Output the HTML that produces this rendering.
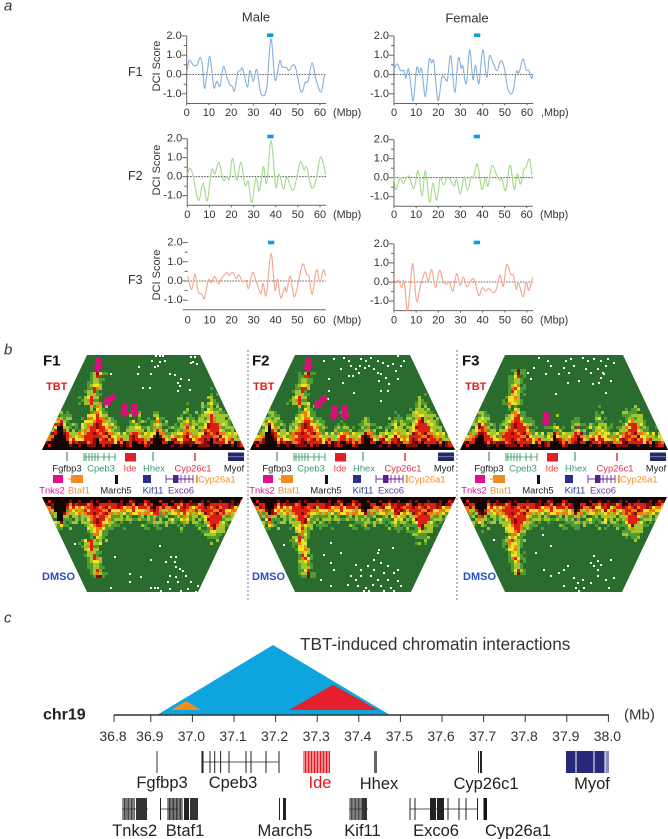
<!DOCTYPE html>
<html lang="en">
<head>
<meta charset="utf-8">
<title>TBT-induced chromatin interactions</title>
<style>
html,body{margin:0;padding:0;background:#fff;width:668px;height:839px;overflow:hidden}
svg{display:block}
text{font-family:"Liberation Sans",sans-serif}
</style>
</head>
<body>
<svg id="fig" xmlns="http://www.w3.org/2000/svg" width="668" height="839" viewBox="0 0 668 839"></svg>
<script>
/* ---------- Panel a: DCI score series ---------- */
const mbpTicks = [0,10,20,30,40,50,60];
const scoreTicks = [2,1,0,-1];
const scoreMinor = [1.5,0.5,-0.5,-1.5];
const f1MaleMbp = [0,1,2,3,4,5,6,7,8,9.3,10.3,11.3,12.3,13.6,15,16.5,18,19.5,20.5,21.5,23,24.3,25.2,27.3,28.4,30,31.5,33.5,36,37.9,39.8,41.8,43,45,46,47.7,49,51.5,53.4,54.6,56.4,58.3,60.5,62];
const f1MaleScore = [0.05,0.7,0.65,0.48,0.45,0.55,0.88,0.5,-0.72,0.2,0.95,0.2,-0.7,-0.35,-0.6,0.4,-0.1,-0.55,-0.6,-0.85,0.1,0.2,0.3,-0.65,0.2,-0.35,0.25,-1.0,-0.7,1.85,-0.3,0.7,0.4,0.35,0.2,0.48,0.35,-0.9,-0.4,-0.35,0.6,-0.3,-0.9,0];
const f1FemaleMbp = [0,1.5,3,4.5,5.4,6.5,7.5,8.7,10.2,11.4,12.5,14.2,15.8,17,18,19.8,21.6,23,24.1,25.6,27.4,29,30.3,31,32.6,34.1,35.6,36.8,38.3,40,41.8,43.1,44.7,46.5,48.1,49.6,51.4,53.5,55.2,56.3,58.2,59.6,60.8,62,62.7];
const f1FemaleScore = [0.28,0.55,0.2,0.2,-0.2,0.3,-0.45,-1.35,0.33,0.07,0.28,-1.15,0.72,0.6,0.65,-1.35,-0.15,-0.2,-0.28,0.97,-0.93,0.85,0.33,0.45,-0.48,1.28,-0.25,0.47,-0.48,1.28,-0.15,0.97,0.6,0.2,0.7,0.42,-0.76,-0.93,0.15,0.07,0.8,0.25,0.2,-0.2,0];
const f2MaleMbp = [0,1.2,2.7,4.2,5.4,7.2,9,11,12.5,14.3,16.3,17.8,19,20.5,22.3,24.3,26.1,27.6,29.1,31,32.6,34.4,35.9,37.9,40,41.5,43.5,45,48,51,52.8,54,56.2,58.2,60.3,62.6];
const f2MaleScore = [0.1,0.45,0,-0.95,-1.22,-0.35,-1.27,0.35,0.15,0.75,-0.18,0.03,-0.14,0.97,-0.18,0.75,-0.45,-0.26,-1.37,-0.09,-0.74,0.53,-0.35,1.9,-0.53,0.14,-0.65,-0.03,-0.7,0.75,0.35,0.49,-0.58,-0.18,1.05,0.09];
const f2FemaleMbp = [0,0.9,2.7,4.2,6.5,9,10.9,12.7,14.2,16.1,17.6,19.3,20.9,22.4,24.4,27.1,28.3,30,31.7,33.3,34.8,35.9,37.7,39.7,41.3,42.5,44.3,46.4,47.9,49,50.5,52.5,54.3,55.8,57.3,58.8,59.7,61.2,62.4];
const f2FemaleScore = [0.05,-0.65,0,-0.3,0.1,-0.56,0.37,-0.96,0.37,-1.3,-0.3,-1.18,0,-0.39,0.05,-0.44,-0.09,-0.86,0.05,-0.68,0.05,0,0.72,-0.61,-0.04,-0.44,0.63,0.14,-0.12,-0.09,-0.68,0.67,-0.61,0.19,-0.33,0.44,0.54,0.98,0.14];
const f3MaleMbp = [0,1.8,3.3,4.8,6.4,7.6,9.4,10.6,12.3,14,15.5,17.8,18.8,20.5,22,23.4,24.9,26.5,27.7,29.5,31,33.3,34.3,35.8,37.9,39.7,40.9,42.4,44.2,45,46.7,48.4,50.3,52.3,54.1,55.2,56.7,58.6,60.2,61.7,62.8];
const f3MaleScore = [0.26,-0.44,0.37,-0.56,-0.68,-0.91,0.05,-0.09,0.23,-0.16,0.14,0.44,0.28,0.46,0.14,0.32,-0.04,0.02,-0.39,0.44,0.05,-0.65,-0.12,-0.74,1.42,-0.47,0.1,-0.88,-0.33,-0.56,0.26,-0.82,-0.12,0.88,0.37,0.23,-0.68,0.58,-0.04,0.58,0.28];
const f3FemaleMbp = [0,0.9,2,3.5,4.3,5,6.2,8,8.7,10.2,11.8,14,15.5,17,18.7,20.5,22.3,23.8,25,26.6,28.3,29.8,31.3,33,35.9,38.2,39.8,41.3,42.8,44.8,46.3,47.8,49.3,50.8,52.6,53.8,55.2,56.1,58.2,59.6,60.8,62.6];
const f3FemaleScore = [0.18,-0.05,0.09,-0.3,0.09,-0.35,-1.5,0.7,0.75,-1,-0.26,0.53,0.05,0.65,-0.3,0.61,0,-0.12,0,-0.47,0.44,-0.18,0.26,-0.26,0.18,-0.7,-0.3,-0.47,-0.35,-0.56,-0.35,0.35,-0.23,0.91,0.4,0.35,-0.39,0,-0.79,0,-0.44,0.23];

/* ---------- Panel b: contact-map domain peaks (dx = px from left corner, value = band height) ---------- */
const f1TbtCenters = [18,56,93,116,145,170];
const f1TbtBlack = [25,12,13,17,8,10];
const f1TbtRed = [32,38,22,23,22,35];
const f1TbtYellow = [35,48,27,27,30,42];
const f1TbtGreen = [43,52,37,38,42,57];
const f2TbtCenters = [20,57,93,117,147,172];
const f2TbtBlack = [23,10,10,15,7,12];
const f2TbtRed = [28,35,18,23,18,35];
const f2TbtYellow = [33,43,25,25,25,42];
const f2TbtGreen = [45,50,33,35,38,53];
const f3TbtCenters = [21,57,95,118,140,173];
const f3TbtBlack = [18,7,15,10,6,8];
const f3TbtRed = [28,38,18,22,17,30];
const f3TbtYellow = [33,43,23,25,25,37];
const f3TbtGreen = [43,48,30,33,38,45];
const f1DmsoCenters = [18,57,92,113,142,172];
const f1DmsoBlack = [23,6,6,14,7,8];
const f1DmsoRed = [28,36,14,19,20,36];
const f1DmsoYellow = [30,43,20,24,26,40];
const f1DmsoGreen = [34,50,28,30,32,46];
const f2DmsoCenters = [20,53,92,115,147,172];
const f2DmsoBlack = [18,6,6,15,6,10];
const f2DmsoRed = [25,33,13,20,22,35];
const f2DmsoYellow = [28,38,20,23,28,38];
const f2DmsoGreen = [33,46,27,30,36,48];
const f3DmsoCenters = [22,57,92,117,147,173];
const f3DmsoBlack = [20,6,6,15,6,10];
const f3DmsoRed = [23,38,14,18,18,32];
const f3DmsoYellow = [27,45,20,24,25,38];
const f3DmsoGreen = [32,50,28,30,32,45];
/* stripe: [dxStart, heightStart, dxEnd, heightEnd, strength] */
const f1TbtStripe = [48,47,57,77,0.8];
const f2TbtStripe = [48,47,58,77,1];
const f3TbtStripe = [52,47,59,78,0.35];
const f1DmsoStripe = [48,46,57,79,0.4];
const f2DmsoStripe = [50,42,58,78,0.3];
const f3DmsoStripe = [52,42,59,77,0.45];
const cellGrain = [-2,4,1,-5,3,-1,0,5,-3,2,-4,1,3,-2,-5,4,0,-1,2,-3,5,-4,1,-2,3,0,-5,2,4,-1,-3,1,5,-4,0,2,-2];
/* empty (white) contact cells: [dx, height] */
const f1TbtEmpty = [[113,95],[117,95],[120,95],[109,90],[117,89],[122,90],[115,85],[112,84],[96,84],[68,77],[95,77],[108,77],[127,77],[132,76],[138,72],[146,71],[135,68],[137,65],[135,60],[147,61],[107,63],[100,63],[148,94],[152,94],[148,88],[154,87],[150,89]];
const f1DmsoEmpty = [[32,46],[117,48],[72,59],[108,62],[123,64],[128,59],[133,59],[132,64],[133,69],[137,71],[140,73],[87,76],[98,79],[127,78],[133,79],[143,78],[125,84],[135,84],[148,84],[155,88],[87,84],[68,90],[108,90],[112,90],[115,90],[118,93],[127,91],[138,93],[145,91],[153,94],[88,95]];
const f2TbtEmpty = [[73,90],[83,92],[93,93],[98,90],[110,92],[115,90],[120,93],[132,88],[147,95],[100,85],[105,82],[108,78],[98,75],[102,75],[123,82],[127,78],[130,77],[137,85],[142,87],[145,80],[150,85],[135,73],[138,67],[130,60],[130,50],[147,72],[78,72],[103,58],[78,60],[77,52],[118,85],[114,83],[109,85],[127,90],[137,60],[128,70],[153,90],[90,82],[92,68]];
const f2DmsoEmpty = [[33,47],[80,45],[73,57],[90,55],[127,55],[142,50],[83,72],[80,65],[105,67],[110,72],[117,68],[123,72],[130,65],[137,68],[133,75],[143,75],[147,72],[100,78],[105,82],[110,78],[120,78],[127,82],[137,82],[147,83],[97,87],[107,88],[115,90],[122,87],[130,88],[140,90],[150,88],[113,93],[118,93],[133,93],[143,93],[128,52],[123,62],[70,82],[80,88]];
const f3TbtEmpty = [[78,93],[87,90],[90,85],[105,90],[110,92],[122,93],[127,90],[133,92],[140,90],[147,92],[153,88],[103,83],[108,78],[113,85],[125,82],[130,78],[137,82],[142,78],[145,85],[140,73],[143,77],[138,68],[145,58],[132,67],[107,68],[70,72],[85,77],[95,57],[73,83],[118,70],[67,78],[98,77],[150,70]];
const f3DmsoEmpty = [[33,42],[82,37],[75,55],[90,48],[133,58],[137,63],[130,65],[140,67],[133,68],[103,72],[107,68],[98,75],[137,72],[150,62],[113,80],[117,85],[115,90],[122,82],[137,78],[145,82],[153,80],[130,85],[103,88],[148,90],[83,72],[90,78],[118,93],[123,90]];

/* ---------- Panel c: genome axis ---------- */
const mbTickLabels = ["36.8","36.9","37.0","37.1","37.2","37.3","37.4","37.5","37.6","37.7","37.8","37.9","38.0"];

const NS = 'http://www.w3.org/2000/svg';
const fig = document.getElementById('fig');
function mk(tag, attrs, parent, name, interact) {
  const el = document.createElementNS(NS, tag);
  for (const k in attrs) el.setAttribute(k, attrs[k]);
  
  
  (parent || fig).appendChild(el);
  return el;
}
function txt(s, x, y, size, opts, parent, name) {
  const o = opts || {};
  const el = mk('text', {x:x, y:y, 'font-size':size, fill:o.fill||'#333', 'text-anchor':o.anchor||'start', 'dominant-baseline':'central', 'font-weight':o.weight||'normal', 'font-style':o.style||'normal'}, parent, name);
  if (o.rotate) el.setAttribute('transform', 'rotate(' + o.rotate + ' ' + x + ' ' + y + ')');
  el.textContent = s;
  return el;
}
/* section letters and titles */
txt('a', 4, 6, 15, {style:'italic'}, fig, 'panel-a-label');
txt('b', 4, 350, 15, {style:'italic'}, fig, 'panel-b-label');
txt('c', 4, 618, 15, {style:'italic'}, fig, 'panel-c-label');
txt('Male', 256, 17, 13, {anchor:'middle'}, fig, 'male-column-title');
txt('Female', 467, 18, 13, {anchor:'middle'}, fig, 'female-column-title');

/* line charts */
function smooth(pts) {
  let d = 'M' + pts[0][0].toFixed(1) + ' ' + pts[0][1].toFixed(1);
  for (let i = 0; i < pts.length - 1; i++) {
    const p0 = pts[Math.max(i-1,0)], p1 = pts[i], p2 = pts[i+1], p3 = pts[Math.min(i+2,pts.length-1)];
    const c1x = p1[0] + (p2[0]-p0[0])/6, c1y = p1[1] + (p2[1]-p0[1])/6;
    const c2x = p2[0] - (p3[0]-p1[0])/6, c2y = p2[1] - (p3[1]-p1[1])/6;
    d += 'C' + c1x.toFixed(1) + ' ' + c1y.toFixed(1) + ' ' + c2x.toFixed(1) + ' ' + c2y.toFixed(1) + ' ' + p2[0].toFixed(1) + ' ' + p2[1].toFixed(1);
  }
  return d;
}
function lineChart(c) {
  const g = mk('g', {}, fig, c.name + '-chart');
  const sx = v => c.x0 + v * (c.x60 - c.x0) / 60;
  const sy = v => c.y0 - v * c.unit;
  const bottom = sy(-1.5) + (c.bottomExtra || 0);
  if (c.spine !== false) mk('line', {x1:c.x0, x2:c.x0, y1:sy(2), y2:bottom, stroke:'#666', 'stroke-width':1}, g, 'y-axis');
  mk('line', {x1:c.x0 - (c.spine === false ? 5 : 0), x2:sx(62.8), y1:bottom, y2:bottom, stroke:'#666', 'stroke-width':1}, g, 'x-axis');
  scoreTicks.forEach(v => {
    mk('line', {x1:c.x0-5, x2:c.x0, y1:sy(v), y2:sy(v), stroke:'#666', 'stroke-width':1}, g, 'y-tick');
    txt(v.toFixed(1), c.x0-5, sy(v), 11, {anchor:'end'}, g, 'y-tick-label');
  });
  scoreMinor.forEach(v => {
    if (sy(v) < bottom) mk('line', {x1:c.x0-3, x2:c.x0, y1:sy(v), y2:sy(v), stroke:'#666', 'stroke-width':1}, g, 'y-minor-tick');
  });
  mbpTicks.forEach(v => {
    if (c.spine !== false) mk('line', {x1:sx(v), x2:sx(v), y1:bottom, y2:bottom+2, stroke:'#666', 'stroke-width':1}, g, 'x-tick');
    txt(String(v), sx(v), c.labelY, 11, {anchor:'middle'}, g, 'x-tick-label');
  });
  txt(c.unitLabel, c.unitX, c.labelY, 10.8, {}, g, 'x-axis-unit');
  mk('line', {x1:c.x0, x2:sx(62.8), y1:sy(0), y2:sy(0), stroke:'#333', 'stroke-width':0.8, 'stroke-dasharray':'1.6 1.2'}, g, 'zero-line');
  const pts = c.mbp.map((m,i) => [sx(m), sy(c.score[i])]);
  mk('path', {d:smooth(pts), fill:'none', stroke:c.color, 'stroke-width':1.1}, g, c.name + '-line');
  mk('rect', {x:c.barX, y:c.barY, width:6.3, height:3.6, fill:'#0a9edc'}, g, 'locus-marker');
}
const BLUE = '#86b0da', GREEN = '#a2d98a', ORANGE = '#f4a48a';
lineChart({name:'f1-male', mbp:f1MaleMbp, score:f1MaleScore, color:BLUE, x0:186.7, x60:320, y0:74.5, unit:19.3, labelY:113, unitLabel:'(Mbp)', unitX:333, barX:267, barY:33.4});
lineChart({name:'f1-female', mbp:f1FemaleMbp, score:f1FemaleScore, color:BLUE, x0:394, x60:527, y0:74.5, unit:19.3, labelY:113, unitLabel:',Mbp)', unitX:541, barX:474, barY:33.4});
lineChart({name:'f2-male', mbp:f2MaleMbp, score:f2MaleScore, color:GREEN, x0:187.3, x60:320, y0:176.7, unit:19, labelY:215, unitLabel:'(Mbp)', unitX:333, barX:267.3, barY:134.7});
lineChart({name:'f2-female', mbp:f2FemaleMbp, score:f2FemaleScore, color:GREEN, x0:394, x60:526.7, y0:177.7, unit:19, labelY:215, unitLabel:'(Mbp)', unitX:540, barX:473.7, barY:134.7});
lineChart({name:'f3-male', mbp:f3MaleMbp, score:f3MaleScore, color:ORANGE, x0:187.7, x60:319.5, y0:281, unit:19.2, labelY:320.5, unitLabel:'(Mbp)', unitX:333, barX:268, barY:240.7, spine:false, bottomExtra:0});
lineChart({name:'f3-female', mbp:f3FemaleMbp, score:f3FemaleScore, color:ORANGE, x0:394, x60:527, y0:282, unit:19.1, labelY:320.5, unitLabel:'(Mbp)', unitX:540, barX:473.7, barY:240.7});
[['F1',72,66],['F2',176,170],['F3',280,275]].forEach(r => {
  txt(r[0], 128, r[1], 12.5, {}, fig, r[0].toLowerCase() + '-row-label');
  txt('DCI Score', 157, r[2], 11, {anchor:'middle', rotate:-90}, fig, 'y-axis-title');
});

/* contact maps */
const COLORS = {black:'#140505', dark:'#8a0c0a', red:'#dc1e14', orange:'#f07a12', yellow:'#f2e022', lime:'#a2c42c', green:'#4e9a34'};
const BG = '#2a6c2e';
function band(centers, heights, floor, dx, slope) {
  let v = floor;
  for (let i = 0; i < centers.length; i++) v = Math.max(v, heights[i] - slope * Math.abs(dx - centers[i]));
  return v;
}
let clipN = 0;
function contactMap(p) {
  const g = mk('g', {}, fig, p.name + '-contact-map');
  const dir = p.up ? -1 : 1;
  const far = p.base + dir * 95;
  const poly = [[p.left,p.base],[p.left+45,far],[p.left+p.w-45,far],[p.left+p.w,p.base]].map(a => a.join(',')).join(' ');
  const id = 'clip' + (clipN++);
  const defs = mk('clipPath', {id:id}, g, 'map-clip');
  mk('polygon', {points:poly}, defs, 'map-clip-shape');
  mk('polygon', {points:poly, fill:BG}, g, 'map-background');
  const paths = {};
  Object.keys(COLORS).forEach(k => paths[k] = '');
  const cell = 3;
  const cols = Math.ceil(p.w / cell), rows = 32;
  const N = cellGrain.length;
  for (let c = 0; c < cols; c++) {
    const dx = c * cell + cell / 2;
    const bk = band(p.centers, p.black, p.floors[0], dx, 2.2);
    const rd = band(p.centers, p.red, p.floors[1], dx, 1.95);
    const yl = band(p.centers, p.yellow, p.floors[2], dx, 1.8);
    const gr = band(p.centers, p.green, p.floors[3], dx, 1.5) + 3;
    for (let r = 0; r < rows; r++) {
      const h = r * cell + cell / 2;
      const g1 = cellGrain[(c * 31 + r * 17 + c * r) % N];
      const g2 = cellGrain[(c * 13 + r * 29 + c * c + r * r) % N];
      let col = null;
      const vIn = h + (r < 1 ? -9 : g1 * 0.6);
      const vOut = h + g1 * 1.1;
      if (vIn < bk) col = 'black';
      else if (vIn < rd) {
        if (vIn < bk + 2.5) col = g2 > 1 ? 'black' : 'dark';
        else col = g2 > 3 ? 'orange' : (g2 < -3 ? 'dark' : 'red');
      } else if (vOut < yl) {
        col = g2 > 3 ? 'lime' : (g2 < -1 ? 'orange' : 'yellow');
        if (vOut < rd + 1 && g2 < 1) col = 'orange';
      } else if (vOut < gr) {
        const f = (vOut - yl) / Math.max(gr - yl, 1);
        if (f < 0.35) col = g2 > 2 ? 'green' : (g2 < -3 ? 'yellow' : 'lime');
        else col = g2 > 2 ? null : (g2 < -2 ? 'lime' : 'green');
      }
      const s = p.stripe;
      const t = (h - s[1]) / (s[3] - s[1]);
      if (t >= -0.1 && t <= 1.05) {
        const d = Math.abs(dx - (s[0] + (s[2] - s[0]) * t)) + g1 * 0.3;
        const taper = 1.15 - 0.45 * Math.max(t, 0);
        let sc = null;
        if (d < 2.4 * s[4] * taper && g2 < 2) sc = 'red';
        else if (d < 3.6 * taper) sc = g2 > 2 ? 'lime' : (g2 < -2 ? 'orange' : 'yellow');
        else if (d < 6 * taper) sc = g2 > 1 ? 'green' : 'lime';
        else if (d < 10 * taper && g2 > -2) sc = 'green';
        if (t > 0.95 && d < 2) sc = 'dark';
        if (sc && col !== 'black' && col !== 'red' && col !== 'dark') col = sc;
      }
      if (!col) continue;
      const y = p.up ? p.base - (r + 1) * cell : p.base + r * cell;
      paths[col] += 'M' + (p.left + c * cell) + ' ' + y + 'h3v3h-3z';
    }
  }
  const cells = mk('g', {'clip-path':'url(#' + id + ')'}, g, 'heatmap-cells');
  Object.keys(paths).forEach(k => {
    if (paths[k]) mk('path', {d:paths[k], fill:COLORS[k]}, cells, 'heatmap-' + k + '-cells');
  });
  let e = '';
  p.empty.forEach(a => {
    const y = p.up ? p.base - a[1] : p.base + a[1];
    e += 'M' + (p.left + a[0]) + ' ' + y + 'h2v2h-2z';
  });
  mk('path', {d:e, fill:'#fff'}, cells, 'empty-cells');
}
const TF = [4,9,13,19], DF = [5,11,17,26];
contactMap({name:'f1-tbt', left:42, base:450, w:203, up:true, floors:TF, centers:f1TbtCenters, black:f1TbtBlack, red:f1TbtRed, yellow:f1TbtYellow, green:f1TbtGreen, stripe:f1TbtStripe, empty:f1TbtEmpty});
contactMap({name:'f1-dmso', left:42, base:497, w:201, up:false, floors:DF, centers:f1DmsoCenters, black:f1DmsoBlack, red:f1DmsoRed, yellow:f1DmsoYellow, green:f1DmsoGreen, stripe:f1DmsoStripe, empty:f1DmsoEmpty});
contactMap({name:'f2-tbt', left:250, base:450, w:205, up:true, floors:TF, centers:f2TbtCenters, black:f2TbtBlack, red:f2TbtRed, yellow:f2TbtYellow, green:f2TbtGreen, stripe:f2TbtStripe, empty:f2TbtEmpty});
contactMap({name:'f2-dmso', left:250, base:497, w:206, up:false, floors:DF, centers:f2DmsoCenters, black:f2DmsoBlack, red:f2DmsoRed, yellow:f2DmsoYellow, green:f2DmsoGreen, stripe:f2DmsoStripe, empty:f2DmsoEmpty});
contactMap({name:'f3-tbt', left:460, base:450, w:208, up:true, floors:TF, centers:f3TbtCenters, black:f3TbtBlack, red:f3TbtRed, yellow:f3TbtYellow, green:f3TbtGreen, stripe:f3TbtStripe, empty:f3TbtEmpty});
contactMap({name:'f3-dmso', left:460, base:497, w:207, up:false, floors:DF, centers:f3DmsoCenters, black:f3DmsoBlack, red:f3DmsoRed, yellow:f3DmsoYellow, green:f3DmsoGreen, stripe:f3DmsoStripe, empty:f3DmsoEmpty});

[248,457].forEach(x => mk('line', {x1:x, x2:x, y1:350, y2:600, stroke:'#555', 'stroke-width':0.8, 'stroke-dasharray':'2 2'}, fig, 'panel-divider'));

/* gene tracks under the maps */
function miniTrack(dx, key) {
  const g = mk('g', {}, fig, key + '-gene-track');
  const L = (x,y1,y2,c,w,n) => mk('line', {x1:x+dx, x2:x+dx, y1:y1, y2:y2, stroke:c, 'stroke-width':w||1}, g, n);
  const R = (x,y,wd,h,c,n) => mk('rect', {x:x+dx, y:y, width:wd, height:h, fill:c}, g, n);
  L(67,452,461,'#555',1,'fgfbp3-gene');
  mk('line', {x1:84+dx, x2:115+dx, y1:457, y2:457, stroke:'#2e9a5e', 'stroke-width':0.8}, g, 'cpeb3-gene-line');
  [84,86,89,92,95,98,104,109,115].forEach(x => L(x,453,461,'#2e9a5e',0.9,'cpeb3-exon'));
  R(125,453,11,8.5,'#e02028','ide-gene');
  L(153,452,461,'#3f9c6a',1.2,'hhex-gene');
  L(195,453,461,'#e0304a',1.5,'cyp26c1-gene');
  R(228,452.5,16,8.5,'#23276e','myof-gene');
  mk('line', {x1:228+dx, x2:244+dx, y1:456.7, y2:456.7, stroke:'#8d90c0', 'stroke-width':0.8}, g, 'myof-gene-gap');
  R(53,475,10,8,'#e0108a','tnks2-gene');
  mk('line', {x1:68+dx, x2:72+dx, y1:479, y2:479, stroke:'#f08c20', 'stroke-width':1}, g, 'btaf1-gene-line');
  R(71,475,12,8,'#f08c20','btaf1-gene');
  R(115,475,3,9,'#111','march5-gene');
  R(143,475,8,8,'#28308e','kif11-gene');
  mk('line', {x1:166+dx, x2:193+dx, y1:479, y2:479, stroke:'#6a2a96', 'stroke-width':0.9}, g, 'exco6-gene-line');
  [166,181,185,189,193].forEach(x => L(x,475,483,'#6a2a96',0.9,'exco6-exon'));
  R(173,475,5.5,8,'#56208a','exco6-exon-block');
  R(196,475,1.6,8,'#f08c20','cyp26a1-gene');
  const T = (s,x,y,c,a) => txt(s, x+dx, y, 9.4, {anchor:a||'middle', fill:c}, g, s.toLowerCase() + '-label');
  T('Fgfbp3',67,468,'#222');
  T('Cpeb3',101,468,'#3a9a6e');
  T('Ide',130,468,'#e8403a');
  T('Hhex',154,468,'#3f9c7c');
  T('Cyp26c1',193,468,'#e0304a');
  T('Myof',234,468,'#222');
  T('Tnks2',52,490,'#e0108a');
  T('Btaf1',79,490,'#f29030');
  T('March5',116,490,'#222');
  T('Kif11',153,490,'#2a3a9a');
  T('Exco6',181,490,'#6a3a9a');
  T('Cyp26a1',198,479,'#f29030','start');
}
miniTrack(0,'f1'); miniTrack(210,'f2'); miniTrack(422,'f3');

/* panel titles and arrows */
function arrow(x1,y1,x2,y2,name) {
  const a = Math.atan2(y2-y1,x2-x1), w = 3, hw = 5.6, hl = 6.5;
  const ux = Math.cos(a), uy = Math.sin(a), nx = -uy, ny = ux;
  const bx = x2-ux*hl, by = y2-uy*hl;
  const pts = [[x1+nx*w,y1+ny*w],[bx+nx*w,by+ny*w],[bx+nx*hw,by+ny*hw],[x2,y2],[bx-nx*hw,by-ny*hw],[bx-nx*w,by-ny*w],[x1-nx*w,y1-ny*w]];
  mk('polygon', {points:pts.map(p => p[0].toFixed(1)+','+p[1].toFixed(1)).join(' '), fill:'#d8107a'}, fig, name);
}
arrow(98,358,98,373,'f1-stripe-arrow'); arrow(115,395,103,405,'f1-diagonal-arrow'); arrow(125,403,125,418,'f1-ide-arrow-left'); arrow(135,403,135,418,'f1-ide-arrow-right');
arrow(308,358,308,373,'f2-stripe-arrow'); arrow(326,397,314,408,'f2-diagonal-arrow'); arrow(334,406,334,421,'f2-ide-arrow-left'); arrow(345,406,345,421,'f2-ide-arrow-right');
arrow(546,412,546,427,'f3-ide-arrow');
[['F1',43,46,42],['F2',252,253,252],['F3',462,465,463]].forEach(r => {
  txt(r[0], r[1], 361, 15, {weight:'bold', fill:'#111'}, fig, r[0].toLowerCase() + '-map-title');
  txt('TBT', r[2], 387, 11, {weight:'bold', fill:'#e02020'}, fig, 'tbt-label');
  txt('DMSO', r[3], 577, 11, {weight:'bold', fill:'#2a50c0'}, fig, 'dmso-label');
});

/* panel c */
mk('polygon', {points:'157,715 273,645 390,715', fill:'#0ea5de'}, fig, 'tbt-interaction-triangle');
mk('polygon', {points:'171,710 186,701 201,710', fill:'#f28c1e'}, fig, 'small-orange-domain');
mk('polygon', {points:'289,710 333,684.7 378,710', fill:'#e4202e'}, fig, 'red-domain');
txt('TBT-induced chromatin interactions', 300, 644, 17.2, {fill:'#333'}, fig, 'interactions-title');
txt('chr19', 43, 715, 16, {weight:'bold', fill:'#222'}, fig, 'chromosome-label');
txt('(Mb)', 624, 715, 15, {fill:'#333'}, fig, 'mb-unit-label');
mk('line', {x1:114, x2:609, y1:715, y2:715, stroke:'#333', 'stroke-width':1.4}, fig, 'genome-axis');
const mbX = i => i === 0 ? 114 : 192.4 + (i - 2) * 41.6;
mbTickLabels.forEach((s,i) => {
  mk('line', {x1:mbX(i), x2:mbX(i), y1:715, y2:722, stroke:'#333', 'stroke-width':1}, fig, 'genome-tick');
  txt(s, mbX(i) - 1, 736, 14, {anchor:'middle'}, fig, 'genome-tick-label');
});
function gene(name, color, y, h, lineRange, exons, blocks) {
  const g = mk('g', {}, fig, name + '-gene');
  if (lineRange) mk('line', {x1:lineRange[0], x2:lineRange[1], y1:y+h/2, y2:y+h/2, stroke:color, 'stroke-width':0.8}, g, name + '-intron-line');
  (exons||[]).forEach(x => mk('line', {x1:x, x2:x, y1:y, y2:y+h, stroke:color, 'stroke-width':1}, g, name + '-exon'));
  (blocks||[]).forEach(b => mk('rect', {x:b[0], y:y, width:b[1]-b[0], height:h, fill:b[2]||color}, g, name + '-exon-block'));
}
const R1 = 751, R2 = 798, H = 22;
const stripes = (a,b,step) => { const o = []; for (let x = a; x <= b; x += step) o.push(x); return o; };
gene('fgfbp3','#333',R1,H,null,[157]);
gene('cpeb3','#222',R1,H,[202,279],[202.5,210,214.7,220.6,229,246,251,266,279],[[201.5,203.5]]);
gene('ide','#e8141c',R1,H,null,stripes(304,330,1.5));
gene('hhex','#666',R1,H,null,[],[[374,377]]);
gene('cyp26c1','#222',R1,H,null,[478.5],[[480,482]]);
gene('myof','#27297a',R1,H,null,[],[[566,575.5],[576.5,593.5],[594.5,604.5],[605.5,609,'#8a8cc4']]);
gene('tnks2','#333',R2,H,[122,148],stripes(123,135,1.4),[[136,147]]);
gene('btaf1','#222',R2,H,[160.5,178],[160.5].concat(stripes(168,183,1.4)),[[184,189],[190,198,'#333']]);
gene('march5','#222',R2,H,null,[279.5],[[283,286]]);
gene('kif11','#333',R2,H,[349,368],stripes(350,362,1.4),[[362,367]]);
gene('exco6','#222',R2,H,[410,477],[410,415,448,459,466,477.5],[[430,436],[437,444]]);
gene('cyp26a1','#111',R2,H,null,[],[[483.5,487]]);
[['Fgfbp3',162,783,'#222'],['Cpeb3',233,783,'#222'],['Ide',320,783,'#e8141c'],['Hhex',379,784,'#222'],['Cyp26c1',486,784,'#222'],['Myof',592,784,'#222'],
 ['Tnks2',134.7,831,'#222'],['Btaf1',185,831,'#222'],['March5',285,831,'#222'],['Kif11',362.5,831,'#222'],['Exco6',436,831,'#222'],['Cyp26a1',518,831,'#222']].forEach(r => {
  txt(r[0], r[1], r[2], 16.5, {anchor:'middle', fill:r[3]}, fig, r[0].toLowerCase() + '-gene-label');
});
</script>
</body>
</html>
